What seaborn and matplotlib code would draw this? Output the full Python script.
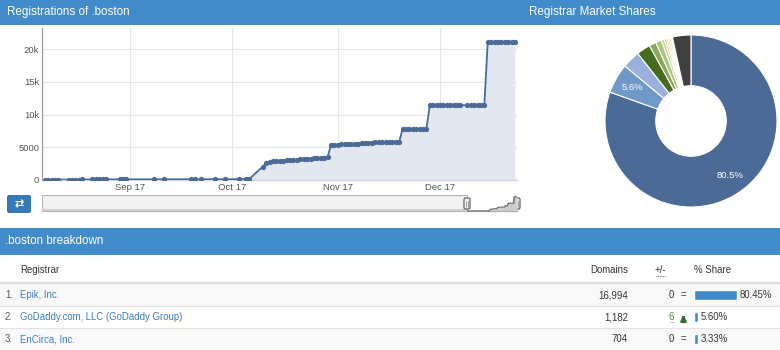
import matplotlib
matplotlib.use("Agg")
import matplotlib.pyplot as plt
from matplotlib.patches import Rectangle, FancyBboxPatch
import pandas as pd
import seaborn as sns

sns.set_theme(style="white")
plt.rcParams['font.family'] = ['Liberation Sans', 'DejaVu Sans']

W, H = 780, 350

# ---------------- data ----------------
reg_dates = [
    "2017-08-07", "2017-08-08", "2017-08-09", "2017-08-10", "2017-08-11",
    "2017-08-14", "2017-08-15", "2017-08-16", "2017-08-17", "2017-08-18",
    "2017-08-21", "2017-08-22", "2017-08-23", "2017-08-24", "2017-08-25",
    "2017-08-29", "2017-08-30", "2017-08-31",
    "2017-09-08", "2017-09-11",
    "2017-09-19", "2017-09-20", "2017-09-22",
    "2017-09-26", "2017-09-29",
    "2017-10-03", "2017-10-05", "2017-10-06",
    "2017-10-10", "2017-10-11", "2017-10-12", "2017-10-13", "2017-10-14",
    "2017-10-15", "2017-10-16", "2017-10-17", "2017-10-18", "2017-10-19",
    "2017-10-20", "2017-10-21", "2017-10-22", "2017-10-23", "2017-10-24",
    "2017-10-25", "2017-10-26", "2017-10-27", "2017-10-28", "2017-10-29",
    "2017-10-30", "2017-10-31",
    "2017-11-01", "2017-11-02", "2017-11-03", "2017-11-04", "2017-11-05",
    "2017-11-06", "2017-11-07", "2017-11-08", "2017-11-09", "2017-11-10",
    "2017-11-11", "2017-11-12", "2017-11-13", "2017-11-14", "2017-11-15",
    "2017-11-16", "2017-11-17", "2017-11-18", "2017-11-19", "2017-11-20",
    "2017-11-21", "2017-11-22", "2017-11-23", "2017-11-24", "2017-11-25",
    "2017-11-26", "2017-11-27", "2017-11-28", "2017-11-29", "2017-11-30",
    "2017-12-01", "2017-12-02", "2017-12-03", "2017-12-04", "2017-12-05",
    "2017-12-06", "2017-12-07", "2017-12-09", "2017-12-10", "2017-12-11",
    "2017-12-12", "2017-12-13", "2017-12-14", "2017-12-15", "2017-12-16",
    "2017-12-17", "2017-12-18", "2017-12-19", "2017-12-20", "2017-12-21",
    "2017-12-22", "2017-12-23",
]
reg_counts = [
    40, 45, 50, 55, 60,
    65, 68, 70, 74, 78,
    82, 85, 88, 92, 95,
    98, 100, 102,
    105, 108,
    110, 112, 115,
    118, 120,
    125, 130, 135,
    2050, 2600, 2760, 2830, 2880,
    2920, 2960, 3000, 3040, 3080,
    3120, 3160, 3200, 3240, 3280,
    3320, 3360, 3400, 3440, 3490,
    5380, 5400,
    5420, 5440, 5460, 5480, 5500,
    5530, 5560, 5690, 5710, 5720,
    5730, 5740, 5750, 5760, 5765,
    5770, 5780, 5790, 5800, 7780,
    7790, 7800, 7800, 7810, 7810,
    7820, 7820, 11400, 11410, 11420,
    11420, 11430, 11430, 11430, 11440,
    11440, 11440, 11440, 11450, 11450,
    11450, 11460, 11460, 21080, 21090,
    21100, 21100, 21110, 21110, 21120,
    21120, 21124,
]
month_ticks = ["2017-09-01", "2017-10-01", "2017-11-01", "2017-12-01"]
month_labels = ["Sep 17", "Oct 17", "Nov 17", "Dec 17"]
y_ticks = [0, 5000, 10000, 15000, 20000]
y_tick_labels = ["0", "5000", "10k", "15k", "20k"]

share_values = [80.45, 5.60, 3.33, 2.60, 1.30, 1.10, 0.60, 0.35, 0.30, 0.30, 0.30, 0.30, 3.47]
share_colors = ["#4b6b96", "#7099c9", "#9bb0da", "#466b1c", "#88a95a", "#a9c47f",
                "#c3d69b", "#f0892a", "#f7b26b", "#f5a623", "#ffd42a", "#fde9a0", "#404040"]

table_rank = ["1.", "2.", "3."]
table_registrar = ["Epik, Inc.", "GoDaddy.com, LLC (GoDaddy Group)", "EnCirca, Inc."]
table_domains = [16994, 1182, 704]
table_change = [0, 6, 0]
table_share = [80.45, 5.60, 3.33]

# ---------------- style ----------------
BLUE = "#428bca"
LINE = "#4b6b96"
FILL = "#e3e8f0"
TXT = "#333333"
LINK = "#3b7dc4"


def rect(x0, y0, x1, y1):
    return [x0 / W, 1 - y1 / H, (x1 - x0) / W, (y1 - y0) / H]


fig = plt.figure(figsize=(W / 100, H / 100), dpi=100)
fig.patch.set_facecolor("white")

# background / overlay axes in pixel coords
bg = fig.add_axes([0, 0, 1, 1], zorder=0)
bg.set_xlim(0, W)
bg.set_ylim(H, 0)
bg.axis("off")

# headers
bg.add_patch(Rectangle((0, 0), W, 25, fc=BLUE, ec="none"))
bg.text(7, 12.5, "Registrations of .boston", color="white", fontsize=8.4, va="center", ha="left")
bg.text(592, 12.5, "Registrar Market Shares", color="white", fontsize=8.4, va="center", ha="center")
bg.add_patch(Rectangle((0, 228), W, 27, fc=BLUE, ec="none"))
bg.text(5, 241.5, ".boston breakdown", color="white", fontsize=8.4, va="center", ha="left")

# ---------------- main line chart ----------------
df = pd.DataFrame({"date": pd.to_datetime(reg_dates), "count": reg_counts})
ax = fig.add_axes(rect(42, 28, 517, 180), zorder=2)
ax.fill_between(df["date"], df["count"], 0, color=FILL, lw=0, zorder=1)
sns.lineplot(data=df, x="date", y="count", ax=ax, color=LINE, lw=1.3,
             marker="o", markersize=3.8, markeredgewidth=0, zorder=3)
ax.set_xlim(pd.Timestamp("2017-08-06 05:00"), pd.Timestamp("2017-12-23 14:00"))
ax.set_ylim(0, 23250)
ax.set_xticks(pd.to_datetime(month_ticks))
ax.set_xticklabels(month_labels)
ax.set_yticks(y_ticks)
ax.set_yticklabels(y_tick_labels)
ax.grid(True, color="#e6e6e6", lw=0.8, zorder=0)
ax.set_axisbelow(True)
ax.set_xlabel("")
ax.set_ylabel("")
ax.tick_params(axis="both", length=0, labelsize=6.8, labelcolor="#555555")
ax.tick_params(axis="x", pad=2.5)
ax.tick_params(axis="y", pad=2)
for s in ["top", "right"]:
    ax.spines[s].set_visible(False)
ax.spines["left"].set_color("#999999")
ax.spines["left"].set_linewidth(0.9)
ax.spines["bottom"].set_color("#ccd6eb")
ax.spines["bottom"].set_linewidth(0.9)

# ---------------- navigator ----------------
bg.add_patch(Rectangle((42, 195), 425, 16, fc="#f2f2f2", ec="#b5b5b5", lw=0.8))
bg.add_patch(Rectangle((42, 208.5), 425, 2.5, fc="#cfcfcf", ec="none"))
bg.plot([467, 517], [211, 211], color="#888888", lw=0.8)
nav = fig.add_axes(rect(467, 196, 517, 211), zorder=2)
nav.fill_between(df["date"], df["count"], 0, color="#cccccc", lw=0)
nav.plot(df["date"], df["count"], color="#666666", lw=0.8)
nav.set_xlim(df["date"].min(), df["date"].max())
nav.set_ylim(0, max(reg_counts) * 1.05)
nav.axis("off")
for hx in (467, 517):
    bg.add_patch(FancyBboxPatch((hx - 3, 198), 6, 11, boxstyle="round,pad=0,rounding_size=1.5",
                                fc="#f7f7f7", ec="#666666", lw=0.9, zorder=5))
    bg.plot([hx - 0.8, hx - 0.8], [200.5, 206.5], color="#777777", lw=0.5, zorder=6)
    bg.plot([hx + 0.8, hx + 0.8], [200.5, 206.5], color="#777777", lw=0.5, zorder=6)

# button
bg.add_patch(FancyBboxPatch((7, 195), 24, 18, boxstyle="round,pad=0,rounding_size=2",
                            fc="#337ab7", ec="none"))
bg.text(19, 204, "\u21c4", color="white", fontsize=8, ha="center", va="center",
        family=["DejaVu Sans"], fontweight="bold")

# ---------------- donut ----------------
axp = fig.add_axes(rect(605, 35, 777, 207), zorder=2)
wedges, _, autotexts = axp.pie(
    share_values, colors=share_colors, startangle=90, counterclock=False, radius=1,
    wedgeprops=dict(width=0.59, edgecolor="white", linewidth=0.8),
    autopct=lambda p: f"{p + 1e-3:.1f}%" if p > 5 else "", pctdistance=0.78,
    textprops=dict(color="white", fontsize=6.8))
axp.set_xlim(-1.0, 1.0)
axp.set_ylim(-1.0, 1.0)
axp.set_aspect("equal")
axp.axis("off")

# ---------------- table ----------------
FS = 6.9
bg.text(20, 270, "Registrar", fontsize=FS, color=TXT, va="center", ha="left")
bg.text(628, 270, "Domains", fontsize=FS, color=TXT, va="center", ha="right")
bg.text(660.5, 270, "+/-", fontsize=FS, color=TXT, va="center", ha="center")
bg.plot([655.5, 666], [275.5, 275.5], color="#555555", lw=0.6, ls=(0, (1, 1)))
bg.text(694, 270, "% Share", fontsize=FS, color=TXT, va="center", ha="left")
bg.plot([0, W], [283, 283], color="#dddddd", lw=1.6)

row_bg = ["#f9f9f9", "#ffffff", "#f9f9f9"]
for i in range(len(table_rank)):
    top = 284 + 22 * i
    yc = top + 11
    bg.add_patch(Rectangle((0, top), W, 22, fc=row_bg[i], ec="none", zorder=0.5))
    if i > 0:
        bg.plot([0, W], [top - 0.5, top - 0.5], color="#e4e4e4", lw=0.8, zorder=0.6)
    bg.text(5, yc, table_rank[i], fontsize=FS, color="#555555", va="center", ha="left")
    bg.text(20, yc, table_registrar[i], fontsize=FS, color=LINK, va="center", ha="left")
    bg.text(628, yc, f"{table_domains[i]:,}", fontsize=FS, color=TXT, va="center", ha="right")
    if table_change[i] == 0:
        bg.text(674, yc, f"{table_change[i]}", fontsize=FS, color=TXT, va="center", ha="right")
        bg.text(683.5, yc, "=", fontsize=FS, color=TXT, va="center", ha="center")
    else:
        bg.text(674, yc, f"{table_change[i]}", fontsize=FS, color="#4a8a3a", va="center", ha="right")
        bg.plot([669.5, 674], [yc + 4.5, yc + 4.5], color="#4a8a3a", lw=0.6, ls=(0, (1, 1)))
        bg.annotate("", xy=(683.5, yc - 5), xytext=(683.5, yc + 4.5),
                    arrowprops=dict(arrowstyle="-|>", color="#2f6f2f", lw=2.0, mutation_scale=7))

# share bars
bar_scale = 43 / table_share[0]
bar_w = [max(v, 7.0) for v in table_share]
axb = fig.add_axes(rect(694, 284, 737, 350), zorder=2)
axb.barh(range(len(table_share)), bar_w, height=0.42, color="#428bca")
axb.set_xlim(0, table_share[0])
axb.set_ylim(2.5, -0.5)
axb.axis("off")
axb.patch.set_alpha(0)
for i, v in enumerate(table_share):
    yc = 295 + 22 * i
    bg.text(694 + bar_w[i] * bar_scale + 3, yc, f"{v:.2f}%", fontsize=FS, color=TXT,
            va="center", ha="left")

fig.savefig("out.png", dpi=100)
